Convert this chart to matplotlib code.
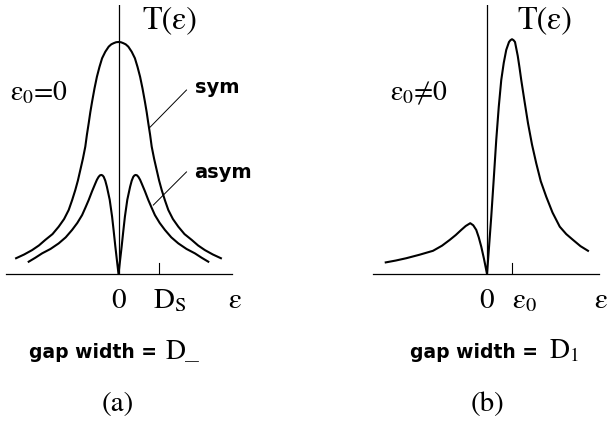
import numpy as np
import matplotlib
matplotlib.use("Agg")
import matplotlib.pyplot as plt

plt.rcParams["font.family"] = "STIXGeneral"
plt.rcParams["mathtext.fontset"] = "stix"

W, H = 607, 428

# (a) eps0 = 0 : right halves of the two even curves, eps in units of D_S
SYM_EPS = [0, 0.06, 0.12, 0.18, 0.245, 0.33, 0.41, 0.475, 0.54, 0.6, 0.66, 0.705, 0.745, 0.79,
           0.83, 0.89, 0.955, 1.015, 1.08, 1.16, 1.245, 1.36, 1.495, 1.65, 1.83, 1.99, 2.16,
           2.36, 2.56]
SYM_T = [1.0, 0.999, 0.995, 0.99, 0.98, 0.958, 0.93, 0.893, 0.85, 0.8, 0.743, 0.697, 0.65, 0.6,
         0.549, 0.497, 0.448, 0.403, 0.362, 0.318, 0.276, 0.237, 0.204, 0.172, 0.147, 0.123,
         0.103, 0.084, 0.068]
ASYM_EPS = [0, 0.04, 0.08, 0.12, 0.16, 0.22, 0.29, 0.33, 0.37, 0.40, 0.43, 0.465, 0.5, 0.54,
            0.58, 0.66, 0.745, 0.83, 0.91, 1.03, 1.16, 1.32, 1.495, 1.7, 1.91, 2.08, 2.245]
ASYM_T = [0, 0.06, 0.12, 0.185, 0.247, 0.32, 0.376, 0.402, 0.419, 0.425, 0.427, 0.425, 0.418,
          0.406, 0.39, 0.357, 0.319, 0.285, 0.254, 0.22, 0.19, 0.158, 0.132, 0.108, 0.089,
          0.07, 0.053]
D_S = 1.0

# (b) eps0 != 0 : eps in units of eps0
B_EPS = [-4.05, -3.65, -3.23, -2.7, -2.16, -1.8, -1.49, -1.25, -1.03, -0.85, -0.67, -0.55,
         -0.43, -0.33, -0.23, -0.12, 0, 0.08, 0.17, 0.27, 0.37, 0.47, 0.57, 0.67, 0.77, 0.88,
         0.94, 1.0, 1.06, 1.12, 1.23, 1.3, 1.37, 1.5, 1.64, 1.8, 1.97, 2.15, 2.37, 2.62, 2.91,
         3.17, 3.44, 3.74, 4.04]
B_T = [0.05, 0.058, 0.068, 0.083, 0.10, 0.122, 0.147, 0.168, 0.19, 0.207, 0.219, 0.21, 0.19,
       0.158, 0.118, 0.065, 0, 0.115, 0.247, 0.41, 0.578, 0.72, 0.836, 0.91, 0.966, 1.0, 1.008,
       1.012, 1.008, 1.0, 0.94, 0.89, 0.836, 0.745, 0.65, 0.558, 0.477, 0.4, 0.333, 0.265,
       0.204, 0.172, 0.147, 0.12, 0.10]
EPS_0 = 1.0


def mirror(x, y):
    x, y = np.asarray(x, float), np.asarray(y, float)
    return np.r_[-x[:0:-1], x], np.r_[y[:0:-1], y]


def px_rect(x0, x1, y0, y1):
    # pixel box (top-left origin) -> figure fraction rect
    return [x0 / W, 1 - y1 / H, (x1 - x0) / W, (y1 - y0) / H]


def fx(x):
    return x / W


def fy(y):
    return 1 - y / H


fig = plt.figure(figsize=(W / 100, H / 100), dpi=100)
LW = 1.5
SANS = dict(family="DejaVu Sans", weight="bold")


def setup(ax, xlim):
    ax.set_xlim(*xlim)
    ax.set_ylim(0, 269 / 232)
    for s in ("top", "right", "left"):
        ax.spines[s].set_visible(False)
    ax.spines["bottom"].set_linewidth(0.9)
    ax.set_yticks([])
    ax.set_xticks([])
    ax.axvline(0, color="black", lw=0.9)
    ax.patch.set_visible(False)


# ---- panel (a)
ax = fig.add_axes(px_rect(6, 232, 5, 274))
setup(ax, ((6 - 118.5) / 40, (232 - 118.5) / 40))
ax.plot(*mirror(SYM_EPS, SYM_T), color="black", lw=LW, clip_on=False,
        solid_joinstyle="round")
ax.plot(*mirror(ASYM_EPS, ASYM_T), color="black", lw=LW, clip_on=False,
        solid_joinstyle="round")
ax.plot([D_S, D_S], [0, 11 / 232], color="black", lw=0.8)
ax.plot([1.7, 0.79], [0.793, 0.633], color="black", lw=0.7)
ax.plot([1.7, 0.87], [0.44, 0.297], color="black", lw=0.7)

ax.text(0, -0.147, "0", ha="center", va="baseline", fontsize=21, clip_on=False)
ax.text(D_S - 0.14, -0.147, r"$\mathrm{D_S}$", ha="left", va="baseline", fontsize=21, clip_on=False)

fig.text(fx(142), fy(28), "T(ε)", fontsize=23, va="baseline")
fig.text(fx(10), fy(100), r"$\mathrm{ε_0}$=0", fontsize=20, va="baseline")
fig.text(fx(195), fy(93), "sym", fontsize=14, va="baseline", **SANS)
fig.text(fx(194), fy(178), "asym", fontsize=14, va="baseline", **SANS)
fig.text(fx(228), fy(308), "ε", fontsize=21, va="baseline")
fig.text(fx(29), fy(358), "gap width =", fontsize=13.5, va="baseline", **SANS)
fig.text(fx(166), fy(358), "D_", fontsize=20, va="baseline")
fig.text(fx(118), fy(411), "(a)", fontsize=21, ha="center", va="baseline")

# ---- panel (b)
bx = fig.add_axes(px_rect(373, 599, 5, 274))
setup(bx, ((373 - 487) / 25, (599 - 487) / 25))
bx.plot(B_EPS, B_T, color="black", lw=LW, clip_on=False, solid_joinstyle="round")
bx.plot([EPS_0, EPS_0], [0, 11 / 232], color="black", lw=0.8)

bx.text(0, -0.147, "0", ha="center", va="baseline", fontsize=21, clip_on=False)
bx.text(EPS_0 - 0.02, -0.147, r"$\mathrm{ε_0}$", ha="left", va="baseline", fontsize=21, clip_on=False)

fig.text(fx(517), fy(28), "T(ε)", fontsize=23, va="baseline")
fig.text(fx(390), fy(100), r"$\mathrm{ε_0}$≠0", fontsize=20, va="baseline")
fig.text(fx(594), fy(308), "ε", fontsize=21, va="baseline")
fig.text(fx(410), fy(358), "gap width =", fontsize=13.5, va="baseline", **SANS)
fig.text(fx(549), fy(358), r"$\mathrm{D_1}$", fontsize=20, va="baseline")
fig.text(fx(487), fy(411), "(b)", fontsize=21, ha="center", va="baseline")

fig.savefig("out.png", dpi=100, facecolor="white")
